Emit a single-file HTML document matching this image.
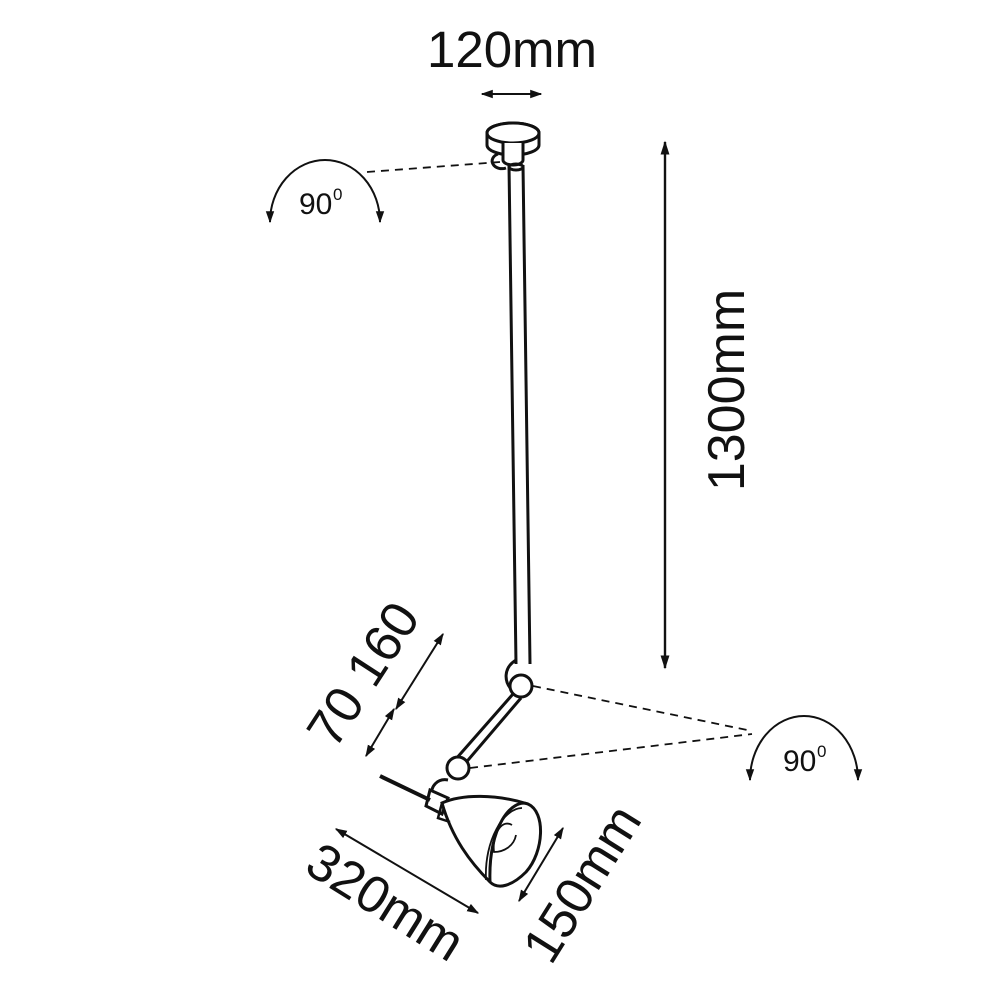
<!DOCTYPE html>
<html><head><style>
html,body{margin:0;padding:0;background:#fff;}
svg{display:block;}
text{font-family:"Liberation Sans",Arial,sans-serif;fill:#111;}
</style></head><body>
<svg width="1000" height="1000" viewBox="0 0 1000 1000" xmlns="http://www.w3.org/2000/svg">
<defs>
<marker id="ah" viewBox="0 0 10 10" refX="9" refY="5" markerWidth="12" markerHeight="12" orient="auto-start-reverse" markerUnits="userSpaceOnUse">
<path d="M0,1.5 L10,5 L0,8.5 z" fill="#111"/>
</marker>
<marker id="ab" viewBox="0 0 10 10" refX="9" refY="5" markerWidth="14" markerHeight="14" orient="auto-start-reverse" markerUnits="userSpaceOnUse">
<path d="M0,1.8 L10,5 L0,8.2 z" fill="#111"/>
</marker>
</defs>
<g stroke="#111" fill="none">
<line x1="482" y1="94" x2="541" y2="94" stroke-width="2" marker-start="url(#ah)" marker-end="url(#ah)"/>
<line x1="665" y1="142" x2="665" y2="668" stroke-width="2.4" marker-start="url(#ab)" marker-end="url(#ab)"/>
<line x1="443" y1="634" x2="396" y2="709" stroke-width="2" marker-start="url(#ah)" marker-end="url(#ah)"/>
<line x1="394" y1="709" x2="366" y2="756" stroke-width="2" marker-start="url(#ah)" marker-end="url(#ah)"/>
<line x1="336" y1="829" x2="478" y2="913" stroke-width="2" marker-start="url(#ah)" marker-end="url(#ah)"/>
<line x1="563" y1="828" x2="519" y2="901" stroke-width="2" marker-start="url(#ah)" marker-end="url(#ah)"/>
<path d="M270,222 A55,62 0 0 1 380,222" stroke-width="2" marker-start="url(#ah)" marker-end="url(#ah)"/>
<path d="M750,780 A54,64 0 0 1 858,780" stroke-width="2" marker-start="url(#ah)" marker-end="url(#ah)"/>
<g stroke-width="1.8" stroke-dasharray="8,6">
<line x1="367" y1="172" x2="500" y2="162"/>
<line x1="533" y1="686" x2="752" y2="731"/>
<line x1="470" y1="768" x2="752" y2="734"/>
</g>
<g stroke-width="3">
<path d="M487,133 A26,10 0 0 1 539,133 L539,145 A26,10 0 0 1 487,145 Z" fill="#fff"/>
<ellipse cx="513" cy="133" rx="26" ry="10" fill="#fff"/>
<path d="M503,143 L503,160 A10,5 0 0 0 523,160 L523,143" fill="#fff"/>
<path d="M498,154 A9,7 0 0 0 506,168"/>
<path d="M509,165 L516,664 M523,165 L530,664" />
<ellipse cx="516" cy="167" rx="7" ry="3"/>
<path d="M516,660 C503,668 504,682 512,690"/>
<circle cx="521" cy="686" r="11" fill="#fff"/>
<path d="M513,694 L455,760 M521,698 L463,766"/>
<circle cx="458" cy="768" r="11" fill="#fff"/>
<path d="M448,780 C438,778 430,786 432,796"/>
<path d="M430,790 L448,798 L442,814 L426,806 Z" fill="#fff"/>
<path d="M380,776 L430,800" stroke-width="4"/>
<path d="M442,803 C462,794 496,794 528,804 C546,812 544,852 526,872 C512,886 498,890 490,882 C470,862 452,838 442,803 Z" fill="#fff"/>
<path d="M528,804 C512,798 488,826 490,882"/>
<path d="M522,808 C504,808 484,840 486,880" stroke-width="1.8"/>
<path d="M512,825 C500,818 492,838 494,852 C504,852 514,846 516,835" stroke-width="1.8"/>
<path d="M442,803 L438,818 L450,822" stroke-width="2.5"/>
</g>
</g>
<text x="512" y="67" font-size="51" text-anchor="middle">120mm</text>
<text transform="translate(744,390) rotate(-90)" font-size="52" text-anchor="middle">1300mm</text>
<text x="299" y="214" font-size="30">90</text><text x="333" y="200" font-size="17">0</text>
<text x="783" y="771" font-size="30">90</text><text x="817" y="757" font-size="17">0</text>
<text transform="translate(378,684) rotate(-57)" font-size="52" text-anchor="middle">70 160</text>
<text transform="translate(376,917) rotate(32)" font-size="52" text-anchor="middle">320mm</text>
<text transform="translate(597,893) rotate(-58)" font-size="52" text-anchor="middle">150mm</text>
</svg>
</body></html>
